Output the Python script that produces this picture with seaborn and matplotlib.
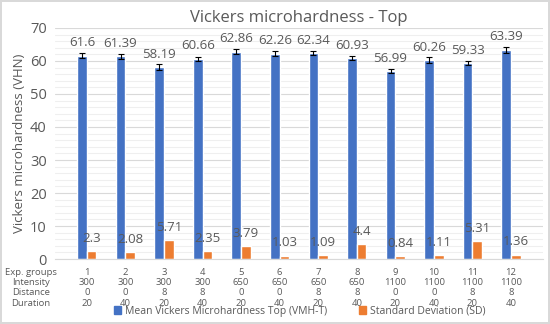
import pandas as pd
import matplotlib.pyplot as plt
import seaborn as sns
from matplotlib.ticker import MultipleLocator

# Data
groups = ['1', '2', '3', '4', '5', '6', '7', '8', '9', '10', '11', '12']
intensity = ['300', '300', '300', '300', '650', '650', '650', '650', '1100', '1100', '1100', '1100']
distance = ['0', '0', '8', '8', '0', '0', '8', '8', '0', '0', '8', '8']
duration = ['20', '40', '20', '40', '20', '40', '20', '40', '20', '40', '20', '40']
mean_vmh = [61.6, 61.39, 58.19, 60.66, 62.86, 62.26, 62.34, 60.93, 56.99, 60.26, 59.33, 63.39]
std_dev = [2.3, 2.08, 5.71, 2.35, 3.79, 1.03, 1.09, 4.4, 0.84, 1.11, 5.31, 1.36]
err_mean = [0.8, 0.8, 0.8, 0.7, 0.8, 0.7, 0.6, 0.6, 0.7, 0.8, 0.6, 0.9]

series_names = ['Mean Vickers Microhardness Top (VMH-T)', 'Standard Deviation (SD)']
colors = ['#4472C4', '#ED7D31']

df = pd.DataFrame({
    'group': groups * 2,
    'value': mean_vmh + std_dev,
    'series': [series_names[0]] * 12 + [series_names[1]] * 12,
})

sns.set_style('white')
plt.rcParams['font.family'] = ['Open Sans', 'DejaVu Sans']
text_gray = '#595959'

fig = plt.figure(figsize=(5.5, 3.24), dpi=100)
fig.patch.set_edgecolor('#d9d9d9')
fig.patch.set_linewidth(1.5)
ax = fig.add_axes([0.1, 0.2006, 0.887, 0.713])

sns.barplot(data=df, x='group', y='value', hue='series', palette=colors,
            width=0.5, errorbar=None, saturation=1, ax=ax, legend=True)

# error bars on the mean bars
blue = ax.containers[0]
xs = [p.get_x() + p.get_width() / 2 for p in blue]
ax.errorbar(xs, mean_vmh, yerr=err_mean, fmt='none', ecolor='black',
            elinewidth=0.8, capsize=2.5, capthick=0.8, zorder=3)

# data labels
for cont, vals in zip(ax.containers, [mean_vmh, std_dev]):
    for p, v in zip(cont, vals):
        ax.text(p.get_x() + p.get_width() / 2, v + 3.9, f'{v:g}', ha='center',
                va='center', fontsize=9.5, color=text_gray)

ax.set_ylim(0, 70)
ax.yaxis.set_major_locator(MultipleLocator(10))
ax.yaxis.set_minor_locator(MultipleLocator(2))
ax.grid(axis='y', which='major', color='#d9d9d9', linewidth=0.8)
ax.grid(axis='y', which='minor', color='#efefef', linewidth=0.8)
ax.set_axisbelow(True)
for s in ['top', 'right', 'left']:
    ax.spines[s].set_visible(False)
ax.spines['bottom'].set_color('#d9d9d9')
ax.tick_params(axis='y', labelsize=10.5, labelcolor=text_gray, length=0, pad=6)
ax.tick_params(axis='x', length=0)
ax.set_xticklabels([])
ax.set_xlabel('')
ax.set_ylabel('Vickers microhardness (VHN)', fontsize=9.5, color=text_gray, labelpad=3)
ax.set_title('Vickers microhardness - Top', fontsize=12, color=text_gray, pad=4)

# data table under the axis
for i in range(len(groups)):
    ax.text(i, -0.04, '\n'.join([groups[i], intensity[i], distance[i], duration[i]]),
            transform=ax.get_xaxis_transform(), ha='center', va='top',
            fontsize=6.8, color=text_gray, linespacing=1.16)
ax.text(-0.049, -0.04, 'Exp. groups\nIntensity\nDistance\nDuration',
        transform=ax.transAxes, ha='center', va='top', fontsize=6.8,
        color=text_gray, linespacing=1.16)

ax.get_legend().remove()
handles = [plt.Rectangle((0, 0), 1, 1, color=c) for c in colors]
fig.legend(handles, series_names, loc='center', bbox_to_anchor=(0.545, 0.04),
           ncol=2, frameon=False, fontsize=7.5, handlelength=0.7, handleheight=0.7,
           handletextpad=0.4, columnspacing=3.0, labelcolor=text_gray)

plt.savefig('out.png', dpi=100)
